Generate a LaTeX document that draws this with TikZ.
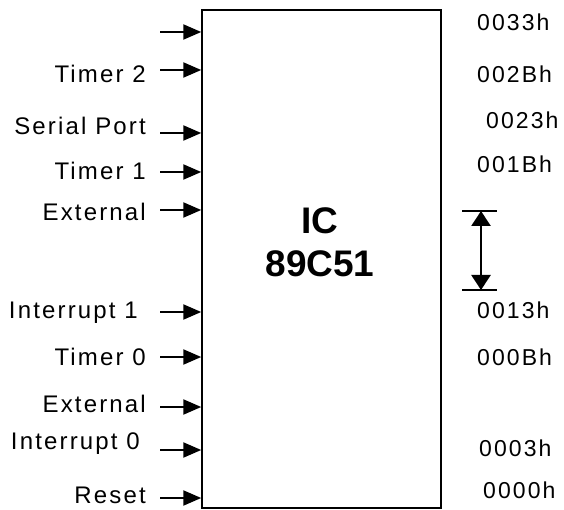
\documentclass[tikz,border=0pt]{standalone}
\usepackage{fontspec}
\setmainfont{Liberation Sans}
\newfontfamily\lblfont[LetterSpace=9]{Liberation Sans}
\usetikzlibrary{arrows.meta,calc}
\tikzset{
  pin/.style = {draw, line width=2.2pt, -{Triangle[length=18pt,width=15pt]}},
  lbl/.style = {anchor=east, inner sep=0pt, font=\lblfont\fontsize{24}{26}\selectfont},
  addr/.style = {anchor=west, inner sep=0pt, font=\lblfont\fontsize{23}{26}\selectfont},
  bar/.style = {draw, line width=1.6pt},
}

\begin{document}
\begin{tikzpicture}[x=1pt, y=-1pt]
        \useasboundingbox (0,0) rectangle (564,510);
        % chip
        \node[draw, line width=1.5pt, minimum width=239pt, minimum height=498pt, inner sep=0pt](chip)at(321.5,259){};
        \node[font=\bfseries\fontsize{37}{40}\selectfont](ic)at(320,221){IC};
        \node[font=\bfseries\fontsize{37}{40}\selectfont](part)at(320,264){89C51};
        % inputs
        \coordinate(P1)at(160,32);
        \coordinate(P2)at(160,70);
        \coordinate(P3)at(160,133);
        \coordinate(P4)at(160,172);
        \coordinate(P5)at(160,210);
        \coordinate(P6)at(160,312);
        \coordinate(P7)at(160,357);
        \coordinate(P8)at(160,407);
        \coordinate(P9)at(160,450);
        \coordinate(P10)at(160,498);
        \path[pin](P1)to(P1 -| chip.west);
        \path[pin](P2)to(P2 -| chip.west);
        \path[pin](P3)to(P3 -| chip.west);
        \path[pin](P4)to(P4 -| chip.west);
        \path[pin](P5)to(P5 -| chip.west);
        \path[pin](P6)to(P6 -| chip.west);
        \path[pin](P7)to(P7 -| chip.west);
        \path[pin](P8)to(P8 -| chip.west);
        \path[pin](P9)to(P9 -| chip.west);
        \path[pin](P10)to(P10 -| chip.west);
        % names
        \node[lbl](t2)at(146,74){Timer 2};
        \node[lbl](sp)at(146,126){Serial Port};
        \node[lbl](t1)at(146,171){Timer 1};
        \node[lbl](ex1)at(146,212){External};
        \node[lbl](in1)at(138,313){Interrupt 1};
        \node[lbl](t0)at(146,357){Timer 0};
        \node[lbl](ex0)at(146,404){External};
        \node[lbl](in0)at(140,444){Interrupt 0};
        \node[lbl](rst)at(146,495){Reset};
        % vectors
        \node[addr](a33)at(477,22){0033h};
        \node[addr](a2b)at(477,74){002Bh};
        \node[addr](a23)at(486,120){0023h};
        \node[addr](a1b)at(477,164){001Bh};
        \node[addr](a13)at(477,310){0013h};
        \node[addr](a0b)at(477,357){000Bh};
        \node[addr](a03)at(479,448){0003h};
        \node[addr](a00)at(483,490){0000h};
        % gap
        \coordinate(G1)at(481,211);
        \coordinate(G2)at(481,290);
        \path[bar]($(G1)+(-19,0)$)to($(G1)+(16,0)$);
        \path[bar]($(G2)+(-19,0)$)to($(G2)+(16,0)$);
        \path[draw, line width=2.5pt, {Triangle[length=15pt,width=19pt]}-{Triangle[length=15pt,width=19pt]}](G1)to(G2);
\end{tikzpicture}
\end{document}
